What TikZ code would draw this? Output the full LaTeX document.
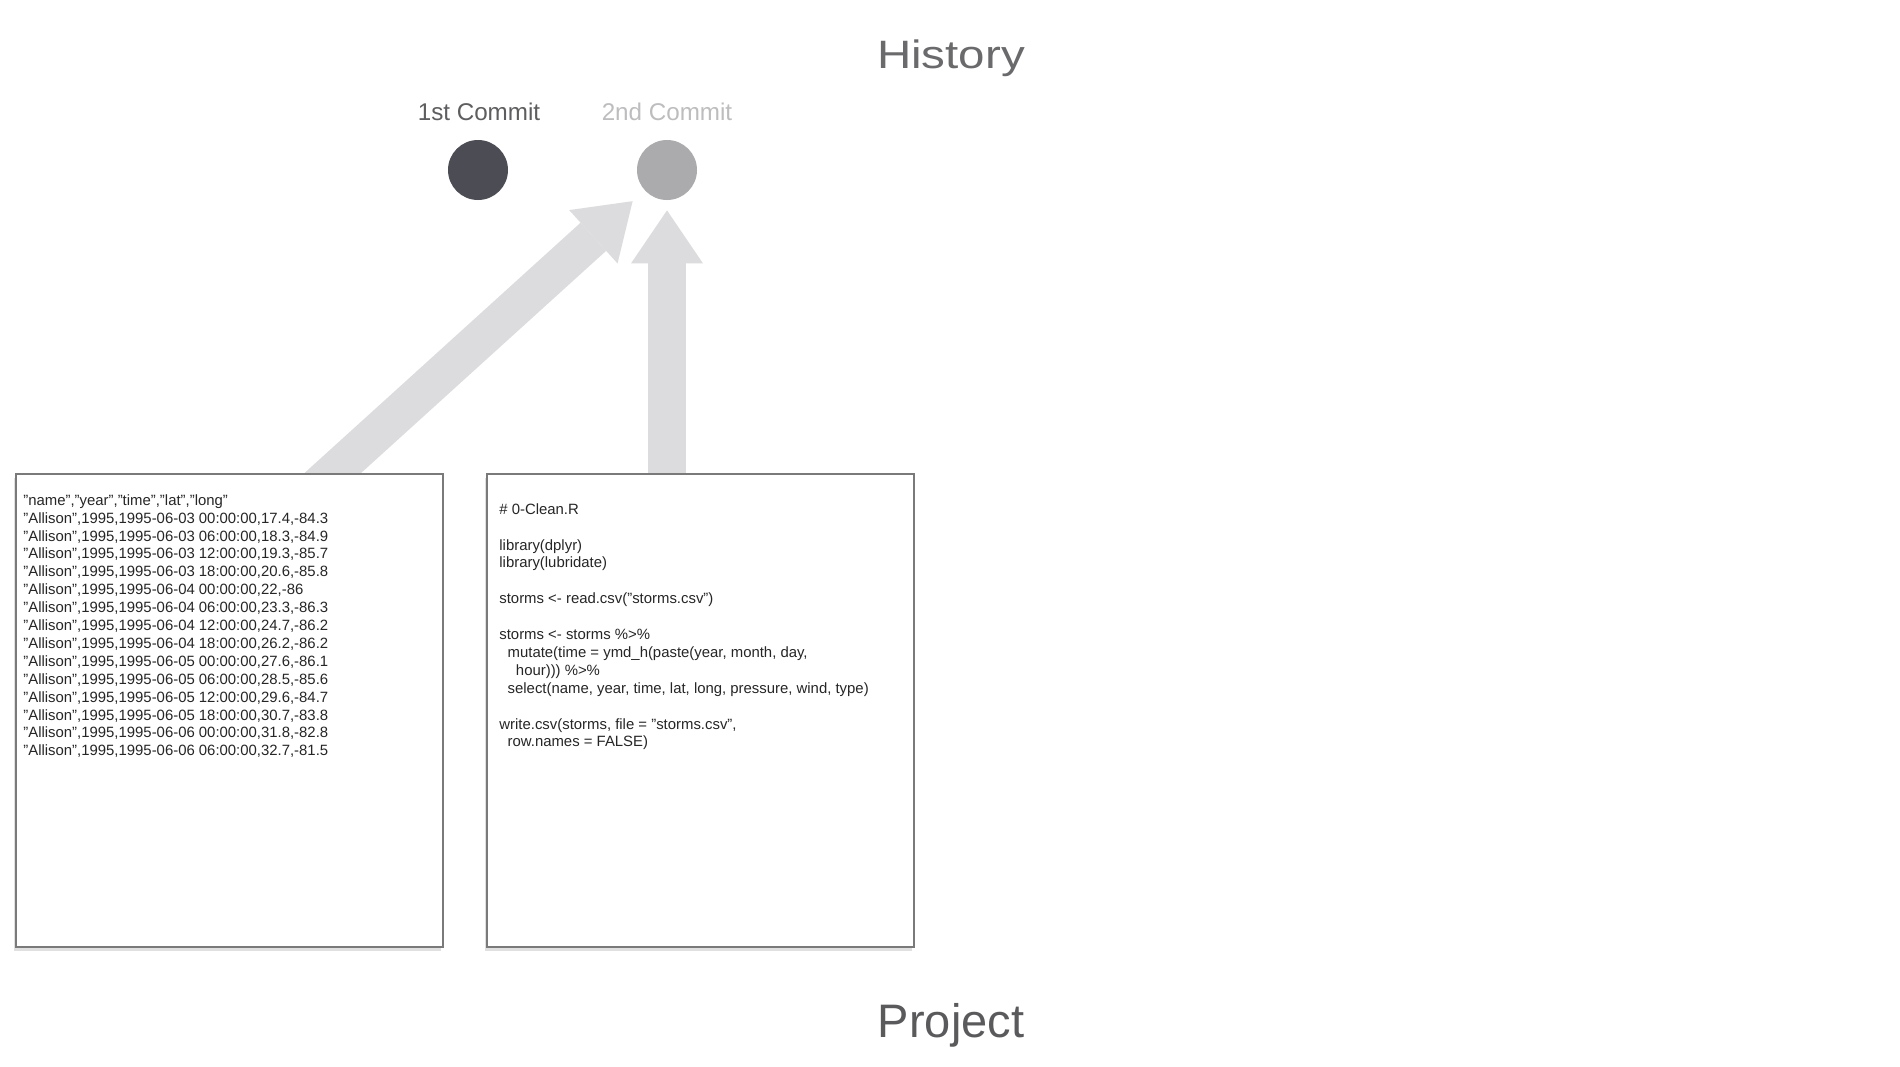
\documentclass[tikz,border=0pt]{standalone}
\usepackage{fontspec}
\setmainfont{Liberation Sans}
\newfontfamily\widetitle[FakeStretch=1.2]{Liberation Sans}
\usetikzlibrary{arrows.meta,shadows}
\definecolor{titlegray}{HTML}{5A5A5C}
\definecolor{histgray}{HTML}{6A6A6C}
\definecolor{onegray}{HTML}{5E5E60}
\definecolor{twogray}{HTML}{BDBDBF}
\definecolor{dotdark}{HTML}{4C4D54}
\definecolor{dotlight}{HTML}{ABABAD}
\definecolor{arrowgray}{HTML}{DCDCDE}
\definecolor{boxgray}{HTML}{7A7A7A}
\definecolor{textdark}{HTML}{262626}
\begin{document}
\begin{tikzpicture}[x=0.5pt,y=-0.5pt,
  titletext/.style={anchor=base, inner sep=0, text=titlegray, font=\fontsize{23.5}{28}\selectfont},
  commitlabel/.style={anchor=base, inner sep=0, font=\fontsize{12.1}{14}\selectfont},
  dot/.style={circle, inner sep=0, minimum size=30pt},
  bigarrow/.style={draw=arrowgray, line width=19pt,
    -{Triangle[width=36pt,length=26.5pt,line width=0pt,fill=arrowgray]}},
  filebox/.style={draw=boxgray, line width=1pt, fill=white,
    drop shadow={shadow xshift=-1pt, shadow yshift=-2pt, opacity=0.12, fill=black},
    minimum width=213.5pt, minimum height=236.5pt, inner sep=0},
  filetext/.style={anchor=north west, inner sep=0, align=left, text=textdark,
    font=\fontsize{7.45}{8.95}\selectfont}
]
\useasboundingbox[fill=white] (0,0) rectangle (1900,1066);

\node[titletext, text=histgray, font=\widetitle\fontsize{19.8}{24}\selectfont] (hist) at (951,68) {History};
\node[titletext] (proj) at (951,1037) {Project};

\node[commitlabel, text=onegray] (l1) at (479,120) {1st Commit};
\node[commitlabel, text=twogray] (l2) at (667,120) {2nd Commit};

\node[dot, fill=dotdark] (c1) at (478,170) {};
\node[dot, fill=dotlight] (c2) at (667,170) {};

\coordinate (s1) at (303,500);
\coordinate (s2) at (667,500);
\draw[bigarrow, shorten >=8pt] (s1) -- (c2);
\draw[bigarrow, shorten >=5pt] (s2) -- (c2);

\node[filebox] (csv) at (229.5,710.5) {};
\node[filebox] (script) at (700.5,710.5) {};

\node[filetext] (csvtext) at (23,494) {%
"name","year","time","lat","long"\\
"Allison",1995,1995-06-03 00:00:00,17.4,-84.3\\
"Allison",1995,1995-06-03 06:00:00,18.3,-84.9\\
"Allison",1995,1995-06-03 12:00:00,19.3,-85.7\\
"Allison",1995,1995-06-03 18:00:00,20.6,-85.8\\
"Allison",1995,1995-06-04 00:00:00,22,-86\\
"Allison",1995,1995-06-04 06:00:00,23.3,-86.3\\
"Allison",1995,1995-06-04 12:00:00,24.7,-86.2\\
"Allison",1995,1995-06-04 18:00:00,26.2,-86.2\\
"Allison",1995,1995-06-05 00:00:00,27.6,-86.1\\
"Allison",1995,1995-06-05 06:00:00,28.5,-85.6\\
"Allison",1995,1995-06-05 12:00:00,29.6,-84.7\\
"Allison",1995,1995-06-05 18:00:00,30.7,-83.8\\
"Allison",1995,1995-06-06 00:00:00,31.8,-82.8\\
"Allison",1995,1995-06-06 06:00:00,32.7,-81.5};

\node[filetext] (scripttext) at (499,503) {%
\# 0-Clean.R\\
~\\
library(dplyr)\\
library(lubridate)\\
~\\
storms <- read.csv("storms.csv")\\
~\\
storms <- storms \%>\%\\
\hspace*{0.556em}mutate(time = ymd\_h(paste(year, month, day,\\
\hspace*{1.112em}hour))) \%>\%\\
\hspace*{0.556em}select(name, year, time, lat, long, pressure, wind, type)\\
~\\
write.csv(storms, file = "storms.csv",\\
\hspace*{0.556em}row.names = FALSE)};
\end{tikzpicture}
\end{document}
